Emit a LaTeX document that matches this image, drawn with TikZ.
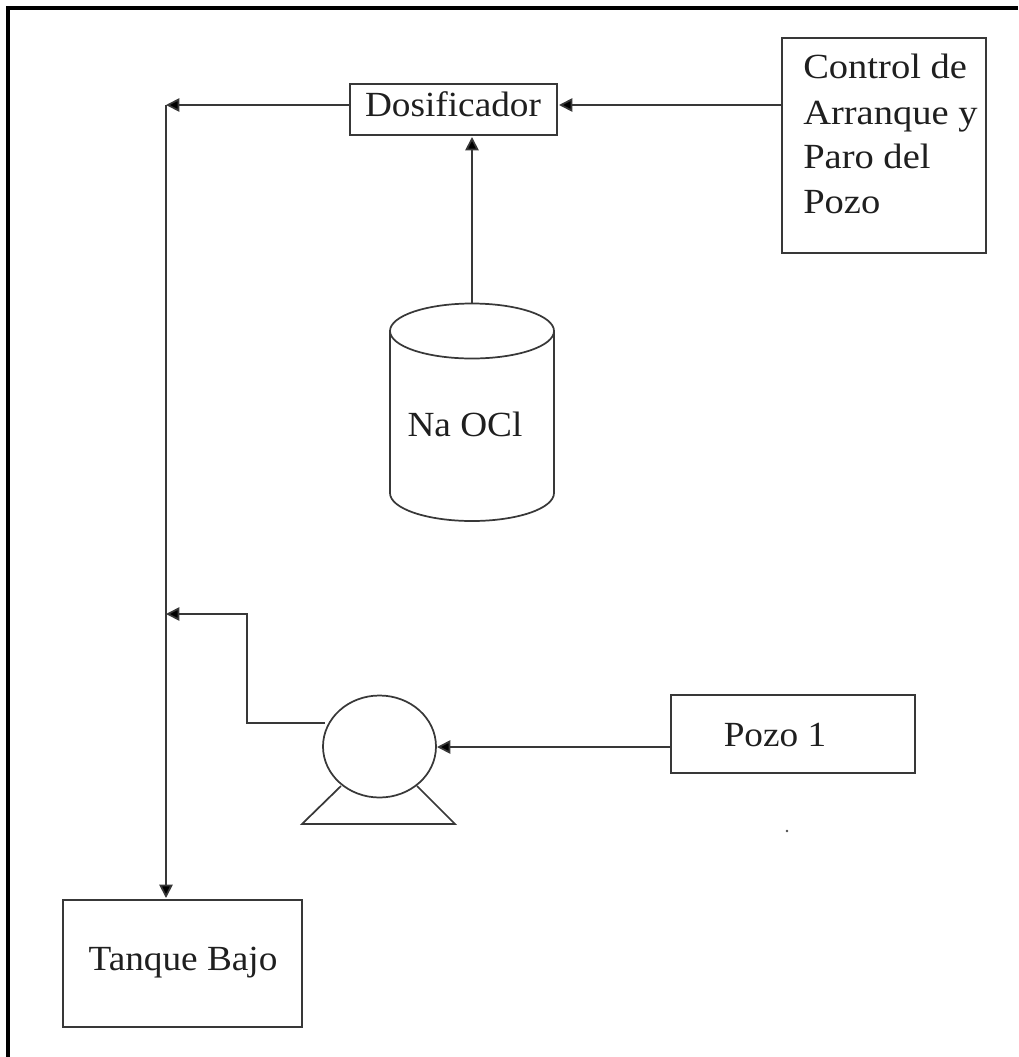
\documentclass[tikz,border=0pt]{standalone}
\usepackage{fontspec}
\setmainfont[FakeStretch=1.055]{Liberation Serif}
\newfontfamily\widefont[FakeStretch=1.09]{Liberation Serif}
\usetikzlibrary{arrows.meta,shapes.geometric}
\tikzset{
  x=0.75pt,y=-0.75pt,
  ln/.style={draw=black!78,line width=1.3pt},
  flow/.style={ln,-{Triangle[length=10pt,width=10pt,fill=black]}},
  lbl/.style={font=\fontsize{26.5pt}{26.5pt}\selectfont,text=black!88,inner sep=0pt,anchor=base},
  ctltxt/.style={lbl,font=\widefont\fontsize{26.5pt}{26.5pt}\selectfont,anchor=base west},
  boxn/.style={ln,rectangle,anchor=north west,inner sep=0pt,outer sep=0pt,fill=white}
}
\begin{document}
\begin{tikzpicture}
\useasboundingbox (0,0) rectangle (1018,1057);
\coordinate (fa) at (8,1057);
\coordinate (fb) at (8,8);
\coordinate (fc) at (1018,8);
\draw[line width=3pt] (fa) -- (fb) -- (fc);
\node[boxn,minimum width=155.25pt,minimum height=38.25pt] (dos) at (350,84) {};
\node[lbl] (dost) at (453,116) {Dosificador};
\node[boxn,minimum width=153pt,minimum height=161.25pt] (ctl) at (782,38) {};
\node[ctltxt] (c1) at (803,78) {Control de};
\node[ctltxt] (c2) at (803,124) {Arranque y};
\node[ctltxt] (c3) at (803,168) {Paro del};
\node[ctltxt] (c4) at (803,213) {Pozo};
\node[boxn,minimum width=183pt,minimum height=58.5pt] (pozo) at (671,695) {};
\node[lbl] (pozot) at (775,746) {Pozo 1};
\node[boxn,minimum width=179.25pt,minimum height=95.25pt] (tq) at (63,900) {};
\node[lbl] (tqt) at (183,970) {Tanque Bajo};
% cylinder
\coordinate (cyltop) at (472,303);
\coordinate (cylleft) at (390,331);
\coordinate (cylright) at (554,331);
\draw[ln] (cylleft) arc[start angle=180,end angle=-180,x radius=82,y radius=27.5];
\draw[ln] (cylleft) -- (390,493) arc[start angle=180,end angle=0,x radius=82,y radius=28] -- (cylright);
\node[lbl] (cylt) at (465,436) {Na OCl};
% pump
\node[ln,ellipse,minimum width=84.75pt,minimum height=76.5pt,inner sep=0pt,outer sep=0pt] (pump) at (379.5,746.5) {};
\coordinate (bl) at (302,824);
\coordinate (br) at (455,824);
\draw[ln] (341,786) -- (bl) -- (br) -- (417,786);
% connectors
\coordinate (mt) at (166,105);
\coordinate (mm) at (166,614);
\coordinate (ctlin) at (782,105);
\coordinate (dosin) at (559,105);
\coordinate (tqin) at (166,898);
\coordinate (dosb) at (472,137);
\coordinate (pumpout) at (325,723);
\coordinate (pumpin) at (437,747);
\coordinate (pozoout) at (671,747);
\draw[flow] (dos.west |- mt) -- (mt);
\draw[flow] (ctlin) -- (dosin);
\draw[flow] (cyltop) -- (dosb);
\draw[flow] (mt) -- (tqin);
\draw[flow] (pumpout) -- (247,723) -- (247,614) -- (mm);
\draw[flow] (pozoout) -- (pumpin);
\fill[black!70] (787,831) circle[radius=1.3];
\end{tikzpicture}
\end{document}
